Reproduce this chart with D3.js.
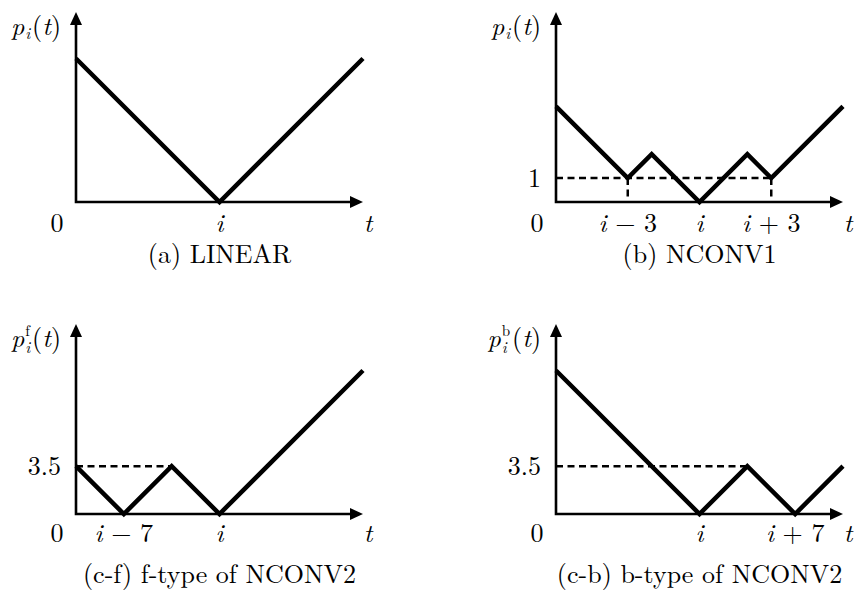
<!DOCTYPE html>
<html>
<head>
<meta charset="utf-8">
<script src="https://cdn.jsdelivr.net/npm/d3@7"></script>
<style>
  body { margin: 0; background: #fff; }
  svg { display: block; }
  text { font-family: "Latin Modern Roman", "CMU Serif", "Liberation Serif", "Times New Roman", Tinos, Times, "DejaVu Serif", "Noto Serif", serif; font-size: 26px; fill: #000; }
</style>
</head>
<body>
<svg width="855" height="597"></svg>
<script>
// piecewise-linear penalty curves, t on x, p(t) on y
const linearT = [0, 6, 12];
const linearP = [6, 0, 6];

const nconv1T = [0, 3, 4, 6, 8, 9, 12];
const nconv1P = [4, 1, 2, 0, 2, 1, 4];

const fTypeT = [0, 3.5, 7, 10.5, 21];
const fTypeP = [3.5, 0, 3.5, 0, 10.5];

const bTypeT = [0, 10.5, 14, 17.5, 21];
const bTypeP = [10.5, 0, 3.5, 0, 3.5];

// axis extents (t range of each panel)
const tMax = [12, 12, 21, 21];

// dashed guide lines: [t0, p0, t1, p1]
const nconv1Guides = [[0, 1, 9, 1], [3, 1, 3, 0], [9, 1, 9, 0]];
const fTypeGuides = [[0, 3.5, 7, 3.5]];
const bTypeGuides = [[0, 3.5, 14, 3.5]];

// tick labels: value + [italic part, upright part]
const linearTicks = [{ t: 6, it: "i", rest: "" }];
const nconv1Ticks = [{ t: 3, it: "i", rest: " \u2212 3" }, { t: 6, it: "i", rest: "" }, { t: 9, it: "i", rest: " + 3" }];
const fTypeTicks = [{ t: 3.5, it: "i", rest: " \u2212 7" }, { t: 10.5, it: "i", rest: "" }];
const bTypeTicks = [{ t: 10.5, it: "i", rest: "" }, { t: 17.5, it: "i", rest: " + 7" }];

const nconv1YTicks = [{ p: 1, label: "1" }];
const fTypeYTicks = [{ p: 3.5, label: "3.5" }];
const bTypeYTicks = [{ p: 3.5, label: "3.5" }];

const captions = ["(a) LINEAR", "(b) NCONV1", "(c-f) f-type of NCONV2", "(c-b) b-type of NCONV2"];
const ySupers = ["", "", "f", "b"];

const AX_W = 287, AX_H = 190;

const panels = [
  { ox: 76, oy: 202, T: linearT, P: linearP, guides: [], ticks: linearTicks, yTicks: [], tickDy: 30, capDy: 61 },
  { ox: 556, oy: 202, T: nconv1T, P: nconv1P, guides: nconv1Guides, ticks: nconv1Ticks, yTicks: nconv1YTicks, tickDy: 30, capDy: 61 },
  { ox: 76, oy: 514, T: fTypeT, P: fTypeP, guides: fTypeGuides, ticks: fTypeTicks, yTicks: fTypeYTicks, tickDy: 28, capDy: 69 },
  { ox: 556, oy: 514, T: bTypeT, P: bTypeP, guides: bTypeGuides, ticks: bTypeTicks, yTicks: bTypeYTicks, tickDy: 28, capDy: 69 }
];

const svg = d3.select("svg");

function mathLabel(sel, it, rest) {
  sel.append("tspan").attr("font-style", "italic").text(it);
  if (rest) sel.append("tspan").attr("xml:space", "preserve").text(rest);
}

function drawPanel(pn, k) {
  const x = d3.scaleLinear().domain([0, tMax[k]]).range([pn.ox, pn.ox + AX_W]);
  const unit = AX_W / tMax[k];
  const y = d3.scaleLinear().domain([0, AX_H / unit]).range([pn.oy, pn.oy - AX_H]);
  const g = svg.append("g");

  const x0 = x.range()[0], x1 = x.range()[1];
  const y0 = y.range()[0], y1 = y.range()[1];

  // dashed guides
  g.selectAll(".guide")
    .data(pn.guides)
    .join("line")
    .attr("class", "guide")
    .attr("x1", d => x(d[0])).attr("y1", d => y(d[1]))
    .attr("x2", d => x(d[2])).attr("y2", d => y(d[3]))
    .attr("stroke", "#000")
    .attr("stroke-width", 2.5)
    .attr("stroke-dasharray", "7,4.5");

  // axes with arrow heads
  g.append("path")
    .attr("d", `M${x0},${y1 + 8}L${x0},${y0}L${x1 - 8},${y0}`)
    .attr("fill", "none")
    .attr("stroke", "#000")
    .attr("stroke-width", 2.6)
    .attr("stroke-linejoin", "miter");
  g.append("path")
    .attr("d", `M${x0},${y1}L${x0 - 6},${y1 + 13}L${x0 + 6},${y1 + 13}Z`)
    .attr("fill", "#000");
  g.append("path")
    .attr("d", `M${x1},${y0}L${x1 - 13},${y0 - 6}L${x1 - 13},${y0 + 6}Z`)
    .attr("fill", "#000");

  // curve
  const pts = pn.T.map((t, i) => [t, pn.P[i]]);
  g.append("path")
    .datum(pts)
    .attr("d", d3.line().x(d => x(d[0])).y(d => y(d[1])))
    .attr("fill", "none")
    .attr("stroke", "#000")
    .attr("stroke-width", 4.5)
    .attr("stroke-linejoin", "miter");

  // x tick labels
  const tl = y0 + pn.tickDy;
  g.append("text").attr("x", x0 - 19).attr("y", tl).attr("text-anchor", "middle").text("0");
  g.selectAll(".xt")
    .data(pn.ticks)
    .join("text")
    .attr("class", "xt")
    .attr("x", d => x(d.t))
    .attr("y", tl)
    .attr("text-anchor", "middle")
    .each(function (d) { mathLabel(d3.select(this), d.it, d.rest); });
  g.append("text").attr("x", x1 + 5).attr("y", tl).attr("text-anchor", "middle")
    .attr("font-style", "italic").text("t");

  // y tick labels
  g.selectAll(".yt")
    .data(pn.yTicks)
    .join("text")
    .attr("class", "yt")
    .attr("x", x0 - 15)
    .attr("y", d => y(d.p))
    .attr("dy", "0.33em")
    .attr("text-anchor", "end")
    .text(d => d.label);

  // y axis label p_i(t), one text element, superscript stacked over the subscript
  const lab = g.append("text");
  const p = lab.append("tspan").attr("font-style", "italic").text("p");
  let cx = p.node().getComputedTextLength() + 1;
  const sub = lab.append("tspan").attr("x", cx).attr("y", ySupers[k] ? 6 : 4)
    .attr("font-size", 16).attr("font-style", "italic").text("i");
  let w = sub.node().getComputedTextLength();
  if (ySupers[k]) {
    const sup = lab.append("tspan").attr("x", cx).attr("y", -11).attr("font-size", 15).text(ySupers[k]);
    w = Math.max(w, sup.node().getComputedTextLength());
  }
  cx += w + 2;
  lab.append("tspan").attr("x", cx).attr("y", 0).text("(");
  lab.append("tspan").attr("font-style", "italic").text("t");
  lab.append("tspan").text(")");
  const bb = lab.node().getBBox();
  lab.attr("transform", `translate(${x0 - 15 - (bb.x + bb.width)},${y1 + 23})`);

  // caption
  g.append("text")
    .attr("x", (x0 + x1) / 2)
    .attr("y", y0 + pn.capDy)
    .attr("text-anchor", "middle")
    .text(captions[k]);
}

panels.forEach(drawPanel);
</script>
</body>
</html>
